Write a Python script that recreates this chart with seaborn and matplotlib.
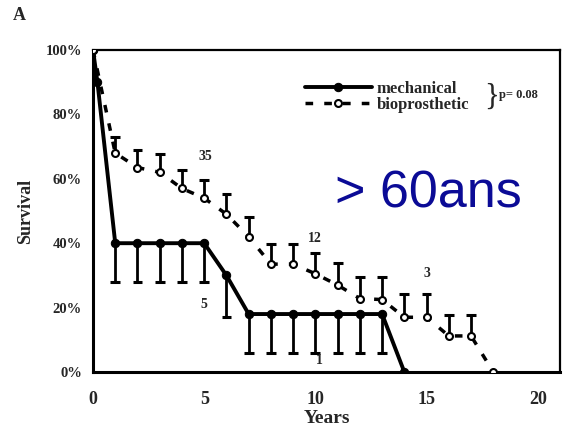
import matplotlib
matplotlib.use("Agg")
import matplotlib.pyplot as plt
import seaborn as sns
import pandas as pd

# survival curves (years, % surviving)
mech_years = [0, 0.2, 1, 2, 3, 4, 5, 6, 7, 8, 9, 10, 11, 12, 13, 14]
mech_surv = [100, 90, 40, 40, 40, 40, 40, 30, 18, 18, 18, 18, 18, 18, 18, 0]
bio_years = [0, 1, 2, 3, 4, 5, 6, 7, 8, 9, 10, 11, 12, 13, 14, 15, 16, 17, 18]
bio_surv = [100, 68, 63.5, 62, 57, 54, 49, 42, 33.5, 33.5, 30.5, 27, 22.8, 22.5,
            17, 17, 11.2, 11.2, 0]

# confidence limits (mechanical: lower only, bioprosthetic: upper only)
mech_err_years = [1, 2, 3, 4, 5, 6, 7, 8, 9, 10, 11, 12, 13]
mech_err_low = [28, 28, 28, 28, 28, 17, 6, 6, 6, 6, 6, 6, 6]
bio_err_years = [1, 2, 3, 4, 5, 6, 7, 8, 9, 10, 11, 12, 13, 14, 15, 16, 17]
bio_err_high = [73, 69, 67.7, 62.7, 59.6, 55.3, 48, 39.8, 39.8, 36.9, 33.8, 29.5,
                29.5, 24.2, 24.2, 17.7, 17.7]

# numbers at risk
risk_labels = ['35', '12', '3', '5', '1']
risk_x = [5.05, 10, 15, 5, 10.2]
risk_y = [67, 41.5, 30.5, 21, 3.5]

mech = pd.DataFrame({'years': mech_years, 'survival': mech_surv})
bio = pd.DataFrame({'years': bio_years, 'survival': bio_surv})
mech_surv_at = dict(zip(mech_years, mech_surv))
bio_surv_at = dict(zip(bio_years, bio_surv))

sns.set_style('white')
plt.rcParams['font.family'] = ['Liberation Serif', 'DejaVu Serif']

fig = plt.figure(figsize=(5.66, 4.34), dpi=100)
ax = fig.add_axes([93 / 566, 62 / 434, 467 / 566, 322 / 434])

# error bars with caps
cap = 0.22
ax.vlines(mech_err_years, mech_err_low, [mech_surv_at[y] for y in mech_err_years],
          color='black', lw=2)
ax.hlines(mech_err_low, [y - cap for y in mech_err_years],
          [y + cap for y in mech_err_years], color='black', lw=2.2)
ax.vlines(bio_err_years, [bio_surv_at[y] for y in bio_err_years], bio_err_high,
          color='black', lw=2)
ax.hlines(bio_err_high, [y - cap for y in bio_err_years],
          [y + cap for y in bio_err_years], color='black', lw=2.2)

sns.lineplot(data=mech, x='years', y='survival', ax=ax, color='black', lw=2.8,
             marker='o', markersize=6, markerfacecolor='black',
             markeredgecolor='black', label='mechanical', zorder=3)
sns.lineplot(data=bio, x='years', y='survival', ax=ax, color='black', lw=2.5,
             linestyle=(0, (2.2, 3.2)), marker='o', markersize=5,
             markerfacecolor='white', markeredgecolor='black',
             markeredgewidth=1.5, label='bioprosthetic', zorder=4)

for lab, x, y in zip(risk_labels, risk_x, risk_y):
    ax.text(x, y, lab, ha='center', va='center', fontsize=10, fontweight='bold')

ax.set_xlim(0, 21)
ax.set_ylim(0, 100)
ax.set_xticks([0, 5, 10, 15, 20])
ax.set_xticks(range(0, 21), minor=True)
ax.set_yticks(range(0, 101, 20))
ax.set_yticks(range(0, 101, 10), minor=True)
ax.set_yticklabels([f'{v}%' for v in range(0, 101, 20)])
ax.tick_params(axis='x', which='major', direction='in', length=5, width=1.5,
               labelsize=13, pad=14)
ax.tick_params(axis='x', which='minor', direction='in', length=4, width=1.5)
ax.tick_params(axis='y', which='major', direction='out', length=5, width=1.5,
               labelsize=10.5, pad=3)
ax.tick_params(axis='y', which='minor', direction='out', length=3, width=1)
for t in ax.get_xticklabels() + ax.get_yticklabels():
    t.set_fontweight('bold')

for side in ['left', 'bottom']:
    ax.spines[side].set_linewidth(2.2)
for side in ['top', 'right']:
    ax.spines[side].set_linewidth(1.6)
for s in ax.spines.values():
    s.set_color('black')

ax.set_xlabel('Years', fontsize=14, fontweight='bold', labelpad=1)
ax.set_ylabel('Survival', fontsize=13, fontweight='bold', labelpad=8)

leg = ax.legend(loc='upper left', bbox_to_anchor=(0.44, 0.925), frameon=False,
                handlelength=4.0, handletextpad=0.3, labelspacing=0.0,
                borderaxespad=0,
                prop={'family': 'Liberation Serif', 'weight': 'bold', 'size': 12})
ax.text(0.838, 0.852, '}', transform=ax.transAxes, fontsize=22, ha='left',
        va='center', fontweight='light')
ax.text(0.870, 0.86, 'p= 0.08', transform=ax.transAxes, fontsize=9,
        fontweight='bold', ha='left', va='center')

ax.text(10.9, 51.2, '> 60ans', fontsize=37.5, color='#0b0b96',
        family='Liberation Sans', ha='left', va='baseline')

fig.text(13 / 566, 1 - 15 / 434, 'A', fontsize=13, fontweight='bold',
         ha='left', va='center')

fig.savefig('out.png', dpi=100)
